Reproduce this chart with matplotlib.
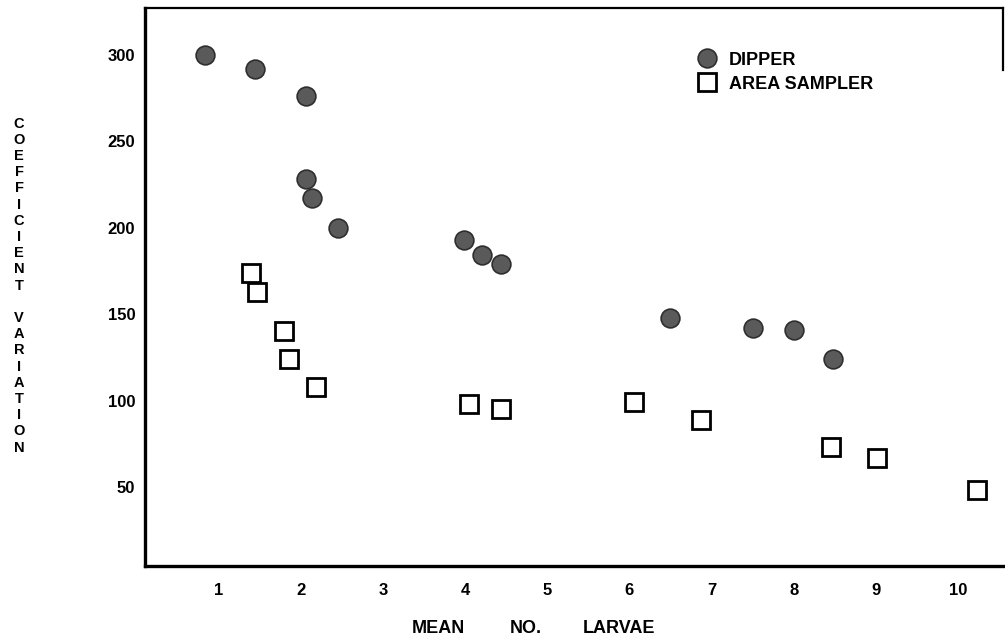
import numpy as np
from matplotlib import pyplot as plt

# Dipper samples --------------------------------------------------------------
dipper_x = [0.83, 1.44, 2.06, 2.06, 2.13, 2.45, 3.99, 4.21, 4.43, 6.49, 7.50, 8.00, 8.48]
dipper_y = [300, 292, 276, 228, 217, 200, 193, 184, 179, 148, 142, 141, 124]

# Area sampler ---------------------------------------------------------------
area_x = [1.39, 1.46, 1.79, 1.85, 2.18, 4.04, 4.44, 6.05, 6.87, 8.45, 9.01, 10.23]
area_y = [174, 163, 140, 124, 108, 98, 95, 99, 89, 73, 67, 48]

xticks = [1, 2, 3, 4, 5, 6, 7, 8, 9, 10]
yticks = [50, 100, 150, 200, 250, 300]

plt.rcParams['font.family'] = ['Liberation Sans', 'DejaVu Sans']
plt.rcParams['font.weight'] = 'bold'

fig = plt.figure(figsize=(10.05, 6.39), dpi=100)
ax = fig.add_axes([0.1443, 0.1142, 0.8537, 0.8733])

ax.plot(dipper_x, dipper_y, 'o', ms=13.5, mfc='#5a5a5a', mec='#2e2e2e', mew=1.2,
        label='DIPPER')
ax.plot(area_x, area_y, 's', ms=13.5, mfc='white', mec='black', mew=2,
        label='AREA SAMPLER')

ax.set_xlim(0.10, 10.55)
ax.set_ylim(4.3, 327)
ax.set_xticks(xticks)
ax.set_yticks(yticks)
ax.tick_params(length=0, labelsize=12)
ax.tick_params(axis='x', pad=12)
ax.tick_params(axis='y', pad=7)
for lab in ax.get_xticklabels() + ax.get_yticklabels():
    lab.set_fontweight('bold')

# spines: heavy left/bottom, thin top, right only partly drawn
ax.spines['left'].set_linewidth(2.4)
ax.spines['bottom'].set_linewidth(2.4)
ax.spines['top'].set_linewidth(1.6)
ax.spines['right'].set_visible(False)
ax.axvline(10.55, ymin=0.889, ymax=1.0, color='black', lw=1.6, clip_on=False)

leg = ax.legend(loc='upper left', bbox_to_anchor=(0.6445, 0.922), frameon=False,
                prop={'weight': 'bold', 'size': 13}, handletextpad=0.7,
                labelspacing=0.4, handlelength=1.0, borderpad=0, borderaxespad=0)

# stacked vertical y label
ylab = "COEFFICIENT VARIATION"
fig.text(0.019, 0.553, "\n".join(ylab), ha='center', va='center',
         fontsize=10.5, fontweight='bold', linespacing=1.2)

# x label, words spread out
fig.text(0.410, 0.0172, "MEAN", ha='left', va='center', fontsize=13, fontweight='bold')
fig.text(0.5075, 0.0172, "NO.", ha='left', va='center', fontsize=13, fontweight='bold')
fig.text(0.580, 0.0172, "LARVAE", ha='left', va='center', fontsize=13, fontweight='bold')

plt.savefig("out.png", dpi=100)
